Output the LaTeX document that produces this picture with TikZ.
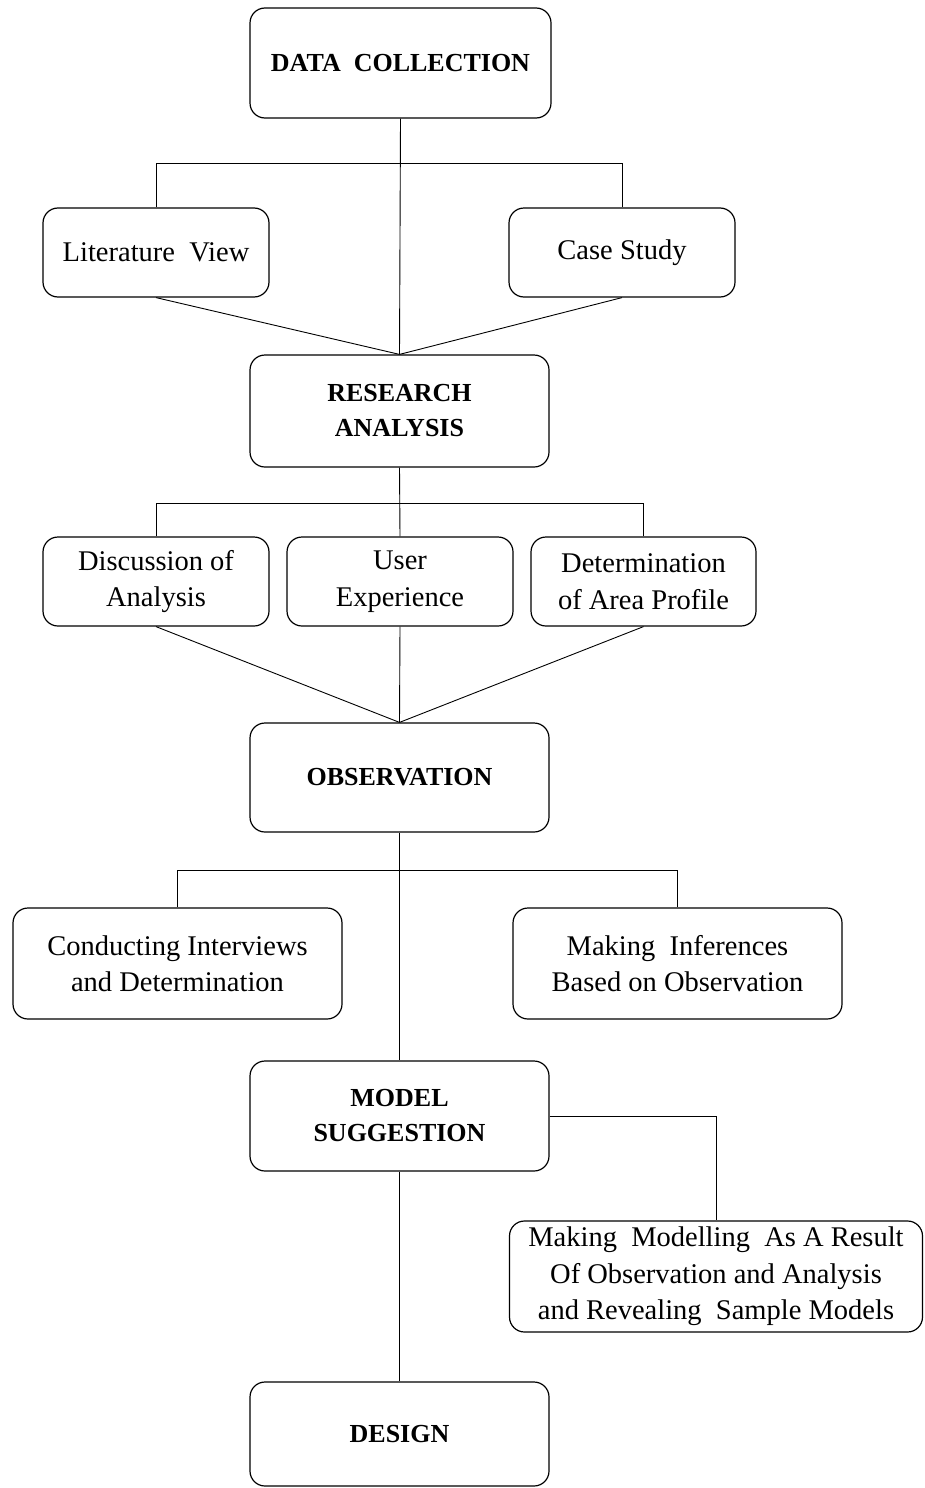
\documentclass[tikz,border=0pt]{standalone}
\usepackage{fontspec}
\setmainfont{Liberation Serif}
\begin{document}
\begin{tikzpicture}[x=1pt,y=-1pt,
  box/.style={draw, line width=1.2pt, rounded corners=15pt, inner sep=0pt, align=center,
    font=\fontsize{28.5}{36.5}\selectfont},
  headbox/.style={box, font=\fontsize{26}{35}\selectfont\bfseries},
  conn/.style={line width=0.9pt}]
\useasboundingbox (0,0) rectangle (924,1488);
% main boxes
\node[headbox, minimum width=301pt, minimum height=110pt] (dc) at (400.5,63) {DATA\ \ COLLECTION};
\node[headbox, minimum width=299pt, minimum height=112pt] (ra) at (399.5,411) {RESEARCH\\ANALYSIS};
\node[headbox, minimum width=299pt, minimum height=109pt] (ob) at (399.5,777.5) {OBSERVATION};
\node[headbox, minimum width=299pt, minimum height=110pt] (ms) at (399.5,1116) {MODEL\\SUGGESTION};
\node[headbox, minimum width=299pt, minimum height=104pt] (de) at (399.5,1434) {DESIGN};
% sub boxes
\node[box, minimum width=226pt, minimum height=89pt] (lit) at (156,252.5) {Literature\ \ View};
\node[box, minimum width=226pt, minimum height=89pt] (cs) at (622,252.5) {Case Study};
\node[box, minimum width=226pt, minimum height=89pt] (da) at (156,581.5) {Discussion of\\Analysis};
\node[box, minimum width=226pt, minimum height=89pt] (ue) at (400,581.5) {User\\Experience};
\node[box, minimum width=225pt, minimum height=89pt] (ap) at (643.5,581.5) {Determination\\of Area Profile};
\node[box, minimum width=329pt, minimum height=111pt] (ci) at (177.5,963.5) {Conducting Interviews\\and Determination};
\node[box, minimum width=329pt, minimum height=111pt] (mi) at (677.5,963.5) {Making\ \ Inferences\\Based on Observation};
\node[box, minimum width=413pt, minimum height=111pt] (mm) at (716,1276.5) {Making\ \ Modelling\ \ As A Result\\Of Observation and Analysis\\and Revealing\ \ Sample Models};
% junctions
\coordinate (j1) at (400.5,163);
\coordinate (j2) at (400,503);
\coordinate (j3) at (400,870);
% connectors
\draw[conn] (dc.south) -- (ra.north);
\draw[conn] (lit.north) |- (j1);
\draw[conn] (cs.north) |- (j1);
\draw[conn] (lit.south) -- (ra.north);
\draw[conn] (cs.south) -- (ra.north);
\draw[conn] (ra.south) -- (ue.north);
\draw[conn] (da.north) |- (j2);
\draw[conn] (ap.north) |- (j2);
\draw[conn] (da.south) -- (ob.north);
\draw[conn] (ue.south) -- (ob.north);
\draw[conn] (ap.south) -- (ob.north);
\draw[conn] (ob.south) -- (ms.north);
\draw[conn] (ci.north) |- (j3);
\draw[conn] (mi.north) |- (j3);
\draw[conn] (ms.east) -| (mm.north);
\draw[conn] (ms.south) -- (de.north);
\end{tikzpicture}
\end{document}
